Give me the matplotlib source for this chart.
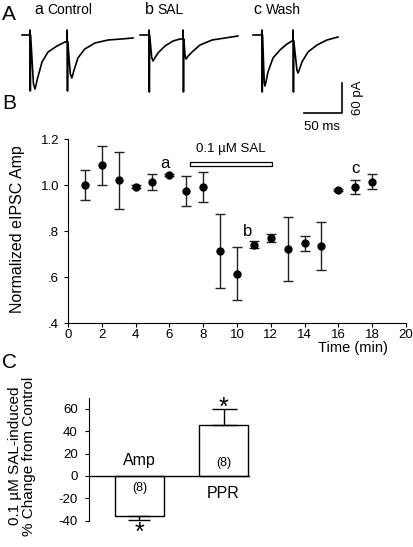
import matplotlib
matplotlib.use("Agg")
import matplotlib.pyplot as plt
from matplotlib.patches import Rectangle

plt.rcParams['font.family'] = ['Liberation Sans', 'DejaVu Sans']
plt.rcParams['axes.unicode_minus'] = False

# ---- panel A: example eIPSC traces (ms, pA) ----
trace_a_t = [-10.5, -0.5, 0, 0.4, 0.8, 4.5, 6.6, 10, 15.8, 23.7, 35.5, 46, 48.7, 48.9, 49.3, 49.7,
             53, 55, 58, 63, 72, 85.5, 102.6, 120, 135.5]
trace_a_i = [0, 0, 10, -112, 0, -98, -108, -86, -54, -34, -22, -14, -13, 10, -112, -13,
             -78, -86, -70, -46, -28, -16, -10, -8, -6]
trace_b_t = [-11.8, -0.5, 0, 0.4, 0.8, 3.5, 5.3, 8, 11.8, 21, 31.6, 40.8, 44.7, 44.9, 45.3, 45.7,
             47.5, 48.7, 51.5, 56.6, 67, 83, 100, 117]
trace_b_i = [0, 0, 10, -114, 0, -45, -52, -45, -36, -22, -12, -8, -8, 10, -114, -8,
             -42, -48, -42, -34, -20, -10, -6, -2]
trace_c_t = [-11.8, -0.5, 0, 0.4, 0.8, 3.0, 3.9, 5.5, 7.9, 14.5, 23.7, 32.9, 39.5, 40.8, 41.0, 41.4,
             41.8, 46, 47.4, 49.5, 52.6, 60.5, 72.4, 85.5, 100]
trace_c_i = [0, 0, 10, -114, 0, -95, -102, -92, -74, -46, -30, -18, -12, -11, 10, -114,
             -11, -70, -76, -68, -54, -34, -20, -10, -4]
trace_offsets = [39.5, 196.1, 344.7]

# ---- panel B: time course ----
time_min = [1, 2, 3, 4, 5, 6, 7, 8, 9, 10, 11, 12, 13, 14, 15, 16, 17, 18]
amp_norm = [1.00, 1.085, 1.02, 0.993, 1.015, 1.045, 0.975, 0.99, 0.713, 0.615,
            0.74, 0.768, 0.722, 0.746, 0.735, 0.977, 0.99, 1.015]
amp_sem = [0.065, 0.083, 0.125, 0.008, 0.035, 0.005, 0.065, 0.065, 0.16, 0.117,
           0.015, 0.017, 0.14, 0.033, 0.104, 0.004, 0.03, 0.034]
sal_start, sal_end = 7.2, 12.05

# ---- panel C: summary ----
groups = ['Amp', 'PPR']
change = [-35.5, 46.0]
change_err = [3.6, 14.3]
n_cells = [8, 8]

fig = plt.figure(figsize=(4.14, 5.47), dpi=100)
W, H = 414.0, 547.0


def fx(px):
    return px / W


def fy(py):
    return 1 - py / H


# panel A
axA = fig.add_axes([0, fy(140), 1, 140 / H])
axA.set_xlim(0, W / 0.76)
axA.set_ylim(-210, 70)
axA.axis('off')
for t, i, off in zip([trace_a_t, trace_b_t, trace_c_t],
                     [trace_a_i, trace_b_i, trace_c_i], trace_offsets):
    axA.plot([v + off for v in t], i, color='black', lw=1.2)
# scale bar 50 ms / 60 pA
axA.plot([400, 450, 450], [-156, -156, -96], color='black', lw=1.2)
fig.text(fx(322), fy(127), '50 ms', ha='center', va='center', fontsize=9.5)
fig.text(fx(358), fy(98), '60 pA', ha='center', va='center', fontsize=9.5, rotation=90)

for x0, letter, x1, name in [(34, 'a', 47, 'Control'), (145, 'b', 157, 'SAL'), (253, 'c', 266, 'Wash')]:
    fig.text(fx(x0), fy(10), letter, ha='left', va='center', fontsize=11.5)
    fig.text(fx(x1), fy(10), name, ha='left', va='center', fontsize=10)

fig.text(fx(2), fy(15), 'A', ha='left', va='center', fontsize=15)
fig.text(fx(2), fy(104), 'B', ha='left', va='center', fontsize=15)
fig.text(fx(2), fy(362), 'C', ha='left', va='center', fontsize=15)

# panel B
axB = fig.add_axes([fx(68), fy(323), (406 - 68) / W, (323 - 139) / H])
axB.errorbar(time_min, amp_norm, yerr=amp_sem, fmt='o', color='black', ms=5,
             ecolor='#222222', elinewidth=1, capsize=3.5, capthick=1)
axB.set_xlim(0, 20)
axB.set_ylim(0.4, 1.2)
axB.set_xticks(range(0, 21, 2))
axB.set_yticks([0.4, 0.6, 0.8, 1.0, 1.2])
axB.set_yticklabels(['.4', '.6', '.8', '1.0', '1.2'])
for s in ['top', 'right']:
    axB.spines[s].set_visible(False)
axB.tick_params(labelsize=9.5, length=3, width=0.8)
axB.tick_params(axis='x', pad=1)
axB.tick_params(axis='y', pad=3.5)
axB.add_patch(Rectangle((sal_start, 1.083), sal_end - sal_start, 0.017,
                        facecolor='white', edgecolor='black', lw=0.9, clip_on=False))
axB.text((sal_start + sal_end) / 2, 1.155, '0.1 \u00b5M SAL', ha='center', va='center', fontsize=9.5)
axB.text(5.74, 1.095, 'a', ha='center', va='center', fontsize=12)
axB.text(10.6, 0.80, 'b', ha='center', va='center', fontsize=12)
axB.text(17.0, 1.07, 'c', ha='center', va='center', fontsize=12)
fig.text(fx(17.5), fy(229), 'Normalized eIPSC Amp', rotation=90, ha='center', va='center', fontsize=11.5)
fig.text(fx(388), fy(348), 'Time (min)', ha='right', va='center', fontsize=10.5)

# panel C
axC = fig.add_axes([fx(89), fy(520.7), (250 - 89) / W, (520.7 - 397.7) / H])
xpos = [0, 1]
axC.bar(xpos, change, width=0.583, color='white', edgecolor='black', lw=1)
axC.errorbar([xpos[0]], [change[0]], yerr=[[change_err[0]], [0]], fmt='none',
             ecolor='black', elinewidth=1, capsize=8, capthick=1)
axC.errorbar([xpos[1]], [change[1]], yerr=[[0], [change_err[1]]], fmt='none',
             ecolor='black', elinewidth=1, capsize=9, capthick=1)
axC.axhline(0, color='black', lw=1)
axC.set_xlim(-0.6, 1.315)
axC.set_ylim(-40, 70)
axC.set_yticks([-40, -20, 0, 20, 40, 60])
axC.set_xticks([])
for s in ['top', 'right', 'bottom']:
    axC.spines[s].set_visible(False)
axC.tick_params(labelsize=9.5, length=3, width=0.8, pad=5)
axC.text(0, 14, groups[0], ha='center', va='center', fontsize=11.5)
axC.text(1, -16, groups[1], ha='center', va='center', fontsize=11.5)
axC.text(0, -10.5, '(%d)' % n_cells[0], ha='center', va='center', fontsize=9)
axC.text(1, 12, '(%d)' % n_cells[1], ha='center', va='center', fontsize=9)
axC.text(0, -51, '*', ha='center', va='center', fontsize=18, clip_on=False)
axC.text(1, 61, '*', ha='center', va='center', fontsize=18, clip_on=False)
fig.text(fx(22), fy(456), '0.1 \u00b5M SAL-induced\n% Change from Control', rotation=90,
         ha='center', va='center', fontsize=11, linespacing=1.05)

fig.savefig('out.png', dpi=100)
